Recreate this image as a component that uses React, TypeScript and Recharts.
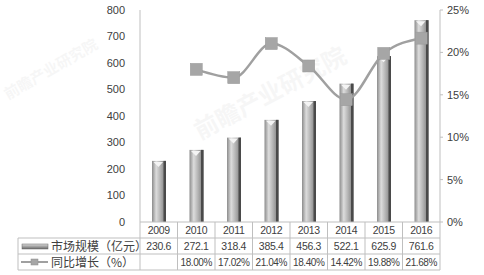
import { ComposedChart, Bar, Line, XAxis, YAxis } from 'recharts'

// 市场规模 (亿元) and 同比增长 (%) by year
const years = ['2009', '2010', '2011', '2012', '2013', '2014', '2015', '2016']
const marketSize = [230.6, 272.1, 318.4, 385.4, 456.3, 522.1, 625.9, 761.6]
const growth: (number | null)[] = [null, 18.0, 17.02, 21.04, 18.4, 14.42, 19.88, 21.68]
const leftTicks = [0, 100, 200, 300, 400, 500, 600, 700, 800]
const rightTicks = [0, 5, 10, 15, 20, 25]
const sizeLabel = '市场规模（亿元）'
const growthLabel = '同比增长（%）'

const data = years.map((year, i) => ({ year, size: marketSize[i], growth: growth[i] }))

const W = 484
const H = 275
const PLOT_LEFT = 140
const PLOT_RIGHT = 440
const TABLE_TOP = 222
const ROW = 16
const COL = (PLOT_RIGHT - PLOT_LEFT) / years.length
const GRID = '#bfbfbf'
const TXT = '#404040'
const FONT = '"Liberation Sans", "Noto Sans CJK SC", sans-serif'
const CJK = '"Noto Sans CJK SC", sans-serif'

const TableTick = (props: any) => {
  const { x, payload } = props
  const i = payload.index
  const pct = growth[i]
  const r1 = TABLE_TOP + ROW
  const r2 = TABLE_TOP + ROW * 2
  const r3 = TABLE_TOP + ROW * 3
  return (
    <g fontFamily={FONT} fontSize={10.5} fill={TXT} letterSpacing={-0.3}>
      {i === 0 && (
        <g>
          <line x1={PLOT_LEFT} y1={TABLE_TOP} x2={PLOT_LEFT} y2={r3} stroke={GRID} />
          <line x1={18} y1={r1} x2={18} y2={r3} stroke={GRID} />
          <line x1={18} y1={r1} x2={PLOT_RIGHT} y2={r1} stroke={GRID} />
          <line x1={18} y1={r2} x2={PLOT_RIGHT} y2={r2} stroke={GRID} />
          <line x1={18} y1={r3} x2={PLOT_RIGHT} y2={r3} stroke={GRID} />
          {/* legend: bar */}
          <rect x={22} y={r1 + 6} width={26} height={5} fill="url(#barH)" stroke="#666" strokeWidth={0.5} />
          <text x={51} y={r1 + 12.5} fontFamily={CJK} fontSize={12} letterSpacing={0} stroke="none">{sizeLabel}</text>
          {/* legend: line */}
          <line x1={21} y1={r2 + 8} x2={48} y2={r2 + 8} stroke="#a0a0a0" strokeWidth={2} />
          <rect x={31} y={r2 + 5} width={7} height={6} fill="#a6a6a6" stroke="#8c8c8c" strokeWidth={0.5} />
          <text x={51} y={r2 + 12.5} fontFamily={CJK} fontSize={12} letterSpacing={0} stroke="none">{growthLabel}</text>
        </g>
      )}
      <line x1={x + COL / 2} y1={TABLE_TOP} x2={x + COL / 2} y2={r3} stroke={GRID} />
      <text x={x} y={TABLE_TOP + 12} textAnchor="middle" stroke="none">{payload.value}</text>
      <text x={x} y={r1 + 12} textAnchor="middle" stroke="none">{marketSize[i].toFixed(1)}</text>
      {pct != null && (
        <text x={x} y={r2 + 12} textAnchor="middle" fontSize={10} letterSpacing={-0.4} stroke="none">{pct.toFixed(2)}%</text>
      )}
    </g>
  )
}

const CylinderBar = (props: any) => {
  const { x, y, width, height } = props
  if (!height) return null
  return (
    <g>
      <rect x={x} y={y} width={width} height={height} fill="url(#barV)" />
      <rect x={x + width - 2.5} y={y} width={2.5} height={height} fill="#4a4a4a" />
      <polygon
        points={`${x + 1.5},${y + 1} ${x + width - 3},${y + 1} ${x + width / 2 - 0.5},${y + 6}`}
        fill="#f4f4f4"
      />
    </g>
  )
}

const SquareDot = (props: any) => {
  const { cx, cy } = props
  if (cx == null || cy == null || props.value == null) return null
  return <rect x={cx - 6} y={cy - 6} width={12} height={12} fill="#a6a6a6" stroke="#999" strokeWidth={0.5} />
}

const Watermark = ({ x, y, rot, size }: { x: number; y: number; rot: number; size: number }) => (
  <text
    x={x}
    y={y}
    transform={`rotate(${rot} ${x} ${y})`}
    fontFamily={CJK}
    fontSize={size}
    fontWeight={700}
    fill="#000"
    opacity={0.03}
  >
    前瞻产业研究院
  </text>
)

export default function App() {
  return (
    <div style={{ position: 'absolute', left: 0, top: 0, width: W, height: H, background: '#fff' }}>
      <svg width={W} height={H} style={{ position: 'absolute', left: 0, top: 0 }}>
        <Watermark x={8} y={100} rot={-30} size={15} />
        <Watermark x={200} y={140} rot={-28} size={24} />
      </svg>
      <ComposedChart
        width={W}
        height={H}
        data={data}
        margin={{ top: 10, right: 0, bottom: 0, left: 100 }}
        style={{ position: 'absolute', left: 0, top: 0 }}
      >
        <defs>
          <linearGradient id="barV" x1="0" y1="0" x2="1" y2="0">
            <stop offset="0%" stopColor="#8c8c8c" />
            <stop offset="30%" stopColor="#dcdcdc" />
            <stop offset="60%" stopColor="#b4b4b4" />
            <stop offset="100%" stopColor="#7a7a7a" />
          </linearGradient>
          <linearGradient id="barH" x1="0" y1="0" x2="0" y2="1">
            <stop offset="0%" stopColor="#dcdcdc" />
            <stop offset="100%" stopColor="#6a6a6a" />
          </linearGradient>
        </defs>
        <XAxis
          dataKey="year"
          height={53}
          interval={0}
          tickLine={false}
          axisLine={{ stroke: GRID }}
          tick={TableTick}
        />
        <YAxis
          yAxisId="left"
          width={40}
          domain={[0, 800]}
          ticks={leftTicks}
          interval={0}
          tickLine={false}
          axisLine={{ stroke: GRID }}
          tickMargin={9}
          tick={{ fontSize: 11, fill: TXT, fontFamily: FONT }}
        />
        <YAxis
          yAxisId="right"
          orientation="right"
          width={44}
          domain={[0, 25]}
          ticks={rightTicks}
          interval={0}
          tickSize={3}
          tickLine={{ stroke: GRID }}
          axisLine={{ stroke: GRID }}
          tickMargin={4}
          tickFormatter={(v: number) => `${v}%`}
          tick={{ fontSize: 11, fill: TXT, fontFamily: FONT, textAnchor: 'start' }}
        />
        <Bar
          yAxisId="left"
          dataKey="size"
          barSize={14}
          shape={CylinderBar}
          isAnimationActive={false}
        />
        <Line
          yAxisId="right"
          dataKey="growth"
          type="monotone"
          stroke="#a0a0a0"
          strokeWidth={2.5}
          dot={SquareDot}
          activeDot={false}
          connectNulls
          isAnimationActive={false}
        />
      </ComposedChart>
    </div>
  )
}
